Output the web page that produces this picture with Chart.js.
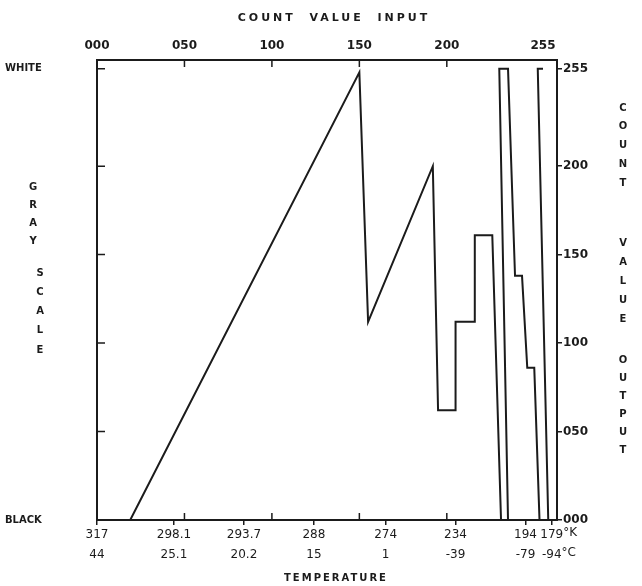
<!DOCTYPE html>
<html>
<head>
<meta charset="utf-8">
<script src="https://cdn.jsdelivr.net/npm/chart.js@4.4.1/dist/chart.umd.min.js"></script>
<style>
  html, body { margin: 0; padding: 0; background: #fff; }
  canvas { display: block; }
</style>
</head>
<body>
<canvas id="lutChart" width="642" height="586"></canvas>
<script>
// enhancement curve: count value input -> count value output
const countIn  = [19, 150, 155, 192, 195, 205, 205, 216, 216, 226, 231, 235, 230, 235, 239, 243, 246, 250, 253, 258, 252, 255];
const countOut = [0, 253, 112, 200, 62, 62, 112, 112, 161, 161, 0, 0, 255, 255, 138, 138, 86, 86, 0, 0, 255, 255];

// top axis (count value input)
const inputTicks  = [0, 50, 100, 150, 200, 255];
const inputLabels = ['000', '050', '100', '150', '200', '255'];
// right axis (count value output)
const outputTicks  = [0, 50, 100, 150, 200, 255];
const outputLabels = ['000', '050', '100', '150', '200', '255'];
// bottom axis: temperatures at their count positions
const tempTicks     = [0, 44, 84, 124, 165, 205, 245, 260];
const kelvinLabels  = ['317', '298.1', '293.7', '288', '274', '234', '194', '179'];
const celsiusLabels = ['44', '25.1', '20.2', '15', '1', '-39', '-79', '-94'];

const ink = '#1b1b1b';
const tickFont = { family: '"DejaVu Sans"', size: 12 };

const setTicks = (vals) => (scale) => { scale.ticks = vals.map(v => ({ value: v })); };

// frame, inner tick marks, units and the spaced-out titles
const frameAndText = {
  id: 'frameAndText',
  afterDraw(chart) {
    const { ctx, chartArea: a, scales } = chart;
    const xTop = scales.x2, yL = scales.y, xB = scales.x;
    ctx.save();
    ctx.strokeStyle = ink;
    ctx.lineWidth = 2;
    ctx.strokeRect(a.left, a.top, a.right - a.left, a.bottom - a.top);

    ctx.lineWidth = 1.5;
    ctx.beginPath();
    outputTicks.slice(1).forEach(v => {
      const y = yL.getPixelForValue(v);
      ctx.moveTo(a.left, y); ctx.lineTo(a.left + 8, y);
    });
    inputTicks.slice(1, 5).forEach(v => {
      const x = xTop.getPixelForValue(v);
      ctx.moveTo(x, a.top); ctx.lineTo(x, a.top + 7);
      const xb = xB.getPixelForValue(v);
      ctx.moveTo(xb, a.bottom); ctx.lineTo(xb, a.bottom - 7);
    });
    ctx.stroke();

    ctx.fillStyle = ink;
    ctx.textBaseline = 'middle';

    // degree units after the last temperature labels
    const last = tempTicks.length - 1;
    const xl = xB.getPixelForValue(tempTicks[last]);
    ctx.font = '12px "DejaVu Sans"';
    ctx.textAlign = 'left';
    ctx.fillText('°K', xl + ctx.measureText(kelvinLabels[last]).width / 2, 533);
    ctx.fillText('°C', xl + ctx.measureText(celsiusLabels[last]).width / 2, 553);

    ctx.textAlign = 'center';
    ctx.font = 'bold 11px "DejaVu Sans"';
    ctx.letterSpacing = '3px';
    ctx.fillText('COUNT  VALUE  INPUT', 334, 18);
    ctx.font = 'bold 10px "DejaVu Sans"';
    ctx.letterSpacing = '2px';
    ctx.fillText('TEMPERATURE', 336, 578);
    ctx.letterSpacing = '0px';

    const stack = (word, x, y0, step) => {
      [...word].forEach((ch, i) => ctx.fillText(ch, x, y0 + i * step));
    };
    ctx.font = 'bold 10px "DejaVu Sans"';
    stack('GRAY', 33, 187, 18);
    stack('SCALE', 40, 273, 19.3);
    stack('COUNT', 623, 108, 18.8);
    stack('VALUE', 623, 243, 19.2);
    stack('OUTPUT', 623, 360, 18);
    ctx.restore();
  }
};

const ctx = document.getElementById('lutChart').getContext('2d');
const lutChart = new Chart(ctx, {
  type: 'line',
  data: {
    datasets: [{
      data: countIn.map((x, i) => ({ x: x, y: countOut[i] })),
      borderColor: ink,
      borderWidth: 2,
      pointRadius: 0,
      tension: 0,
      fill: false,
      xAxisID: 'x',
      yAxisID: 'y'
    }]
  },
  options: {
    responsive: false,
    animation: false,
    devicePixelRatio: 1,
    layout: { padding: { left: 5, right: 0, top: 0, bottom: 0 } },
    plugins: { legend: { display: false }, tooltip: { enabled: false } },
    scales: {
      x: {
        type: 'linear', position: 'bottom', min: 0, max: 263,
        afterBuildTicks: setTicks(tempTicks),
        afterFit: (s) => { s.height = 66; },
        grid: { drawOnChartArea: false, drawTicks: true, tickLength: 5, color: ink, lineWidth: 1.5 },
        border: { display: false },
        ticks: {
          autoSkip: false, maxRotation: 0, padding: 0, color: ink,
          font: { ...tickFont, lineHeight: 1.65 },
          callback: (v, i) => [kelvinLabels[i], celsiusLabels[i]]
        }
      },
      x2: {
        type: 'linear', position: 'top', min: 0, max: 263, display: true,
        afterBuildTicks: setTicks(inputTicks),
        afterFit: (s) => { s.height = 60; },
        grid: { drawOnChartArea: false, drawTicks: false },
        border: { display: false },
        ticks: {
          autoSkip: false, maxRotation: 0, padding: 7, color: ink,
          font: { ...tickFont, size: 12, weight: 'bold' },
          callback: (v, i) => inputLabels[i]
        }
      },
      y: {
        type: 'linear', position: 'left', min: 0, max: 260,
        afterBuildTicks: setTicks(outputTicks),
        afterFit: (s) => { s.width = 92; },
        grid: { drawOnChartArea: false, drawTicks: false },
        border: { display: false },
        ticks: {
          autoSkip: false, crossAlign: 'far', color: ink,
          font: { ...tickFont, size: 10, weight: 'bold' },
          callback: (v) => v === 255 ? 'WHITE' : (v === 0 ? 'BLACK' : '')
        }
      },
      y2: {
        type: 'linear', position: 'right', min: 0, max: 260, display: true,
        afterBuildTicks: setTicks(outputTicks),
        afterFit: (s) => { s.width = 85; },
        grid: { drawOnChartArea: false, drawTicks: true, tickLength: 5, color: ink, lineWidth: 1.5 },
        border: { display: false },
        ticks: {
          autoSkip: false, padding: 1, color: ink,
          font: { ...tickFont, size: 12, weight: 'bold' },
          callback: (v, i) => outputLabels[i]
        }
      }
    }
  },
  plugins: [frameAndText]
});
</script>
</body>
</html>
